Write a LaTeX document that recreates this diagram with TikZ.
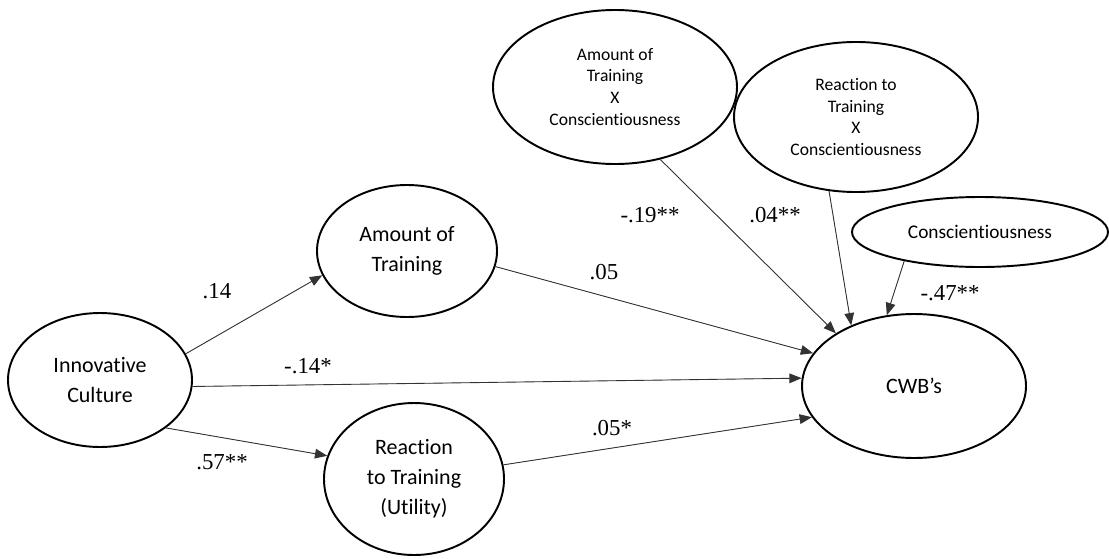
\documentclass[tikz,border=0pt]{standalone}
\usepackage{fontspec}
\setmainfont{Carlito}[Ligatures=NoCommon]
\newfontfamily\coeffont{Liberation Serif}
\usetikzlibrary{shapes.geometric,arrows.meta}

\tikzset{
  latent/.style={ellipse,draw=black,line width=1.1pt,inner sep=0pt,align=center,
    font=\fontsize{12.5}{17}\selectfont},
  small latent/.style={latent,font=\fontsize{10}{12.5}\selectfont},
  path arrow/.style={-{Triangle[length=7pt,width=5.5pt]},line width=0.5pt,draw=black!80,fill=black},
  coef/.style={font=\coeffont\fontsize{13}{15}\selectfont}
}

\begin{document}
\begin{tikzpicture}
\useasboundingbox (0,0) rectangle (22.18,11.16);
% the ellipses
\node[latent,minimum width=3.68cm,minimum height=2.68cm] (culture) at (2.00,3.56) {Innovative\\Culture};
\node[latent,minimum width=3.60cm,minimum height=2.64cm] (amount) at (8.14,6.14) {Amount of\\Training};
\node[latent,minimum width=3.60cm,minimum height=3.04cm] (reaction) at (8.28,1.58) {Reaction\\to Training\\(Utility)};
\node[latent,minimum width=4.48cm,minimum height=2.88cm] (cwb) at (18.28,3.44) {CWB's};
\node[small latent,minimum width=4.88cm,minimum height=3.08cm] (amountx) at (12.30,9.42) {Amount of\\Training\\X\\Conscientiousness};
\node[small latent,minimum width=4.88cm,minimum height=3.00cm] (reactionx) at (17.12,8.82) {Reaction to\\Training\\X\\Conscientiousness};
\node[latent,font=\fontsize{11}{13}\selectfont,minimum width=5.12cm,minimum height=1.40cm] (consc) at (19.60,6.52) {Conscientiousness};
% the arrows
\draw[path arrow] (culture.17) -- (amount.196);
\draw[path arrow] (culture.-4) -- (cwb.176);
\draw[path arrow] (culture.-36) -- (reaction.165);
\draw[path arrow] (amount.-10) -- (cwb.162);
\draw[path arrow] (reaction.9) -- (cwb.197);
\draw[path arrow] (amountx.-58) -- (cwb.146);
\draw[path arrow] (reactionx.250) -- (cwb.136);
\draw[path arrow] (consc.201) -- (cwb.111);
% the labels
\node[coef] (c1) at (4.34,5.34) {.14};
\node[coef] (c2) at (6.16,3.84) {-.14*};
\node[coef] (c3) at (4.44,1.92) {.57**};
\node[coef] (c4) at (12.08,5.72) {.05};
\node[coef] (c5) at (13.00,6.86) {-.19**};
\node[coef] (c6) at (15.50,6.86) {.04**};
\node[coef] (c7) at (12.24,2.60) {.05*};
\node[coef] (c8) at (19.00,5.30) {-.47**};
\end{tikzpicture}
\end{document}
